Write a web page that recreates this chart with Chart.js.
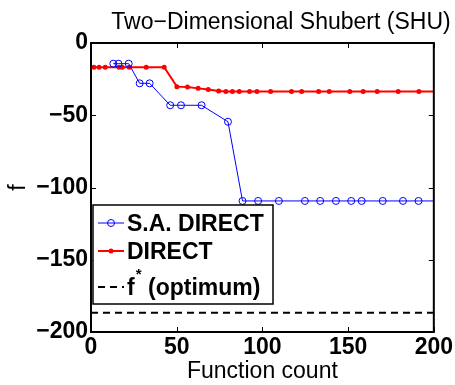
<!DOCTYPE html>
<html>
<head>
<meta charset="UTF-8" />
<title>SHU</title>
<style>
  html, body { margin: 0; padding: 0; background: #fff; }
</style>
</head>
<body>
<canvas id="myChart" width="455" height="385"></canvas>
<script src="https://cdn.jsdelivr.net/npm/chart.js@4"></script>
<script>
// data
var titleText = 'Two\u2212Dimensional Shubert (SHU)';
var xLabel = 'Function count';
var yLabel = 'f';
var xTicks = [0, 50, 100, 150, 200];
var yTicks = [0, -50, -100, -150, -200];

var saCount = [13, 16, 22, 28.4, 34.2, 46.2, 52.5, 64.5, 79.9, 88.4, 97.5, 109.6, 124.8, 133.7, 142.9, 151.8, 157.9, 170.2, 182, 191.1, 200];
var saValue = [-14.3, -14.3, -14.3, -27.9, -27.9, -43.1, -43.1, -43.1, -54.5, -109.3, -109.3, -109.3, -109.3, -109.3, -109.3, -109.3, -109.3, -109.3, -109.3, -109.3, -109.3];

var dirCount = [1.7, 4.7, 8.3, 16.3, 18.2, 22.3, 32.2, 42.7, 50.1, 56.3, 62.5, 68.4, 74.5, 78.7, 82.5, 86.5, 92.5, 96.8, 104.8, 117, 122.9, 132.8, 139, 151, 158.8, 167, 179.2, 191.3, 200];
var dirValue = [-16.8, -16.8, -16.8, -16.8, -16.8, -16.8, -16.8, -16.8, -30.2, -30.4, -31.4, -32.2, -33.2, -33.5, -33.6, -33.6, -33.6, -33.6, -33.6, -33.6, -33.6, -33.6, -33.6, -33.6, -33.6, -33.6, -33.6, -33.6, -33.6];

var optCount = [0, 200];
var optValue = [-186.73, -186.73];

var labels = ['S.A. DIRECT', 'DIRECT', 'f* (optimum)'];

function toXY(xs, ys) {
  var out = [];
  for (var i = 0; i < xs.length; i++) out.push({x: xs[i], y: ys[i]});
  return out;
}
// last point only carries the line to the edge, no marker
function noLastMarker(r) {
  return function(ctx) { return ctx.dataIndex === ctx.dataset.data.length - 1 ? 0 : r; };
}

var FONT = "'Liberation Sans', Arial, Helvetica, sans-serif";

var framePlugin = {
  id: 'frame',
  afterDraw: function(chart) {
    var c = chart.ctx, a = chart.chartArea;
    var sx = chart.scales.x, sy = chart.scales.y;
    c.save();
    // title
    c.fillStyle = '#000';
    c.font = '23px ' + FONT;
    c.textAlign = 'center';
    c.textBaseline = 'alphabetic';
    c.fillText(titleText, 281, 29);
    // box
    c.strokeStyle = '#000';
    c.lineWidth = 2;
    c.strokeRect(a.left, a.top, a.right - a.left, a.bottom - a.top);
    c.lineWidth = 1;
    c.beginPath();
    xTicks.forEach(function(v) {
      var px = Math.round(sx.getPixelForValue(v)) + 0.5;
      c.moveTo(px, a.bottom); c.lineTo(px, a.bottom - 5);
      c.moveTo(px, a.top); c.lineTo(px, a.top + 5);
    });
    yTicks.forEach(function(v) {
      var py = Math.round(sy.getPixelForValue(v)) + 0.5;
      c.moveTo(a.left, py); c.lineTo(a.left + 5, py);
      c.moveTo(a.right, py); c.lineTo(a.right - 5, py);
    });
    c.stroke();

    // legend box
    var lx = 93, ly = 205, lw = 180, lh = 99;
    c.fillStyle = '#fff';
    c.fillRect(lx, ly, lw, lh);
    c.lineWidth = 1.5;
    c.strokeRect(lx, ly, lw, lh);
    var rows = [223, 251, 287];
    var ds = chart.data.datasets;
    c.font = 'bold 23px ' + FONT;
    c.textAlign = 'left';
    c.textBaseline = 'middle';
    for (var i = 0; i < ds.length; i++) {
      var y = rows[i];
      c.strokeStyle = ds[i].borderColor;
      c.lineWidth = ds[i].borderWidth;
      c.setLineDash(ds[i].borderDash || []);
      c.beginPath();
      c.moveTo(98, y); c.lineTo(124, y);
      c.stroke();
      c.setLineDash([]);
      if (i === 0) {
        c.lineWidth = 1;
        c.beginPath(); c.arc(111, y, 3.5, 0, Math.PI * 2); c.stroke();
      } else if (i === 1) {
        c.fillStyle = ds[i].borderColor;
        c.beginPath(); c.arc(111, y, 2.5, 0, Math.PI * 2); c.fill();
      }
      c.fillStyle = '#000';
      var txt = ds[i].label;
      if (txt.indexOf('*') > 0) {
        var parts = txt.split('*');
        c.fillText(parts[0], 127, y + 2);
        var w = c.measureText(parts[0]).width;
        c.font = 'bold 15px ' + FONT;
        c.fillText('*', 127 + w + 1, y - 12);
        c.font = 'bold 23px ' + FONT;
        c.fillText(parts[1], 127 + w + 7, y + 2);
      } else {
        c.fillText(txt, 127, y + 2);
      }
    }
    c.restore();
  }
};

var minus = function(v) { return String(v).replace('-', '\u2212'); };

var config = {
  type: 'line',
  data: {
    datasets: [{
      label: labels[0],
      data: toXY(saCount, saValue),
      borderColor: '#0000ff',
      backgroundColor: 'rgba(0,0,0,0)',
      borderWidth: 1,
      pointRadius: noLastMarker(3.5),
      pointBorderWidth: 1,
      pointBorderColor: '#0000ff',
      pointBackgroundColor: 'rgba(0,0,0,0)',
      fill: false
    }, {
      label: labels[1],
      data: toXY(dirCount, dirValue),
      borderColor: '#ff0000',
      backgroundColor: '#ff0000',
      borderWidth: 2,
      pointRadius: noLastMarker(2.5),
      pointBorderWidth: 0,
      pointBackgroundColor: '#ff0000',
      fill: false
    }, {
      label: labels[2],
      data: toXY(optCount, optValue),
      borderColor: '#000000',
      borderWidth: 2,
      borderDash: [7, 5],
      pointRadius: 0,
      fill: false
    }]
  },
  options: {
    responsive: false,
    animation: false,
    devicePixelRatio: 1,
    layout: { padding: { top: 43, right: 21, left: 0, bottom: 0 } },
    plugins: {
      legend: { display: false },
      title: { display: false },
      tooltip: { enabled: false }
    },
    scales: {
      x: {
        type: 'linear',
        min: 0, max: 200,
        afterBuildTicks: function(s) { s.ticks = xTicks.map(function(v) { return {value: v}; }); },
        afterFit: function(s) { s.height = 53; },
        grid: { display: false, drawTicks: false },
        border: { display: false },
        ticks: { color: '#000', padding: 2, maxRotation: 0, font: { family: FONT, size: 23, weight: 'bold' }, callback: minus },
        title: { display: true, text: xLabel, color: '#000', padding: { top: 0, bottom: 0 }, font: { family: FONT, size: 23, weight: 'normal' } }
      },
      y: {
        type: 'linear',
        min: -200, max: 0,
        afterBuildTicks: function(s) { s.ticks = yTicks.map(function(v) { return {value: v}; }); },
        afterFit: function(s) { s.width = 91; },
        grid: { display: false, drawTicks: false },
        border: { display: false },
        ticks: { color: '#000', padding: 3, font: { family: FONT, size: 23, weight: 'bold' }, callback: minus },
        title: { display: true, text: yLabel, color: '#000', padding: { top: 5, bottom: 0 }, font: { family: FONT, size: 23, weight: 'normal' } }
      }
    }
  },
  plugins: [framePlugin]
};

var myChart = new Chart(document.getElementById('myChart'), config);
</script>
</body>
</html>
